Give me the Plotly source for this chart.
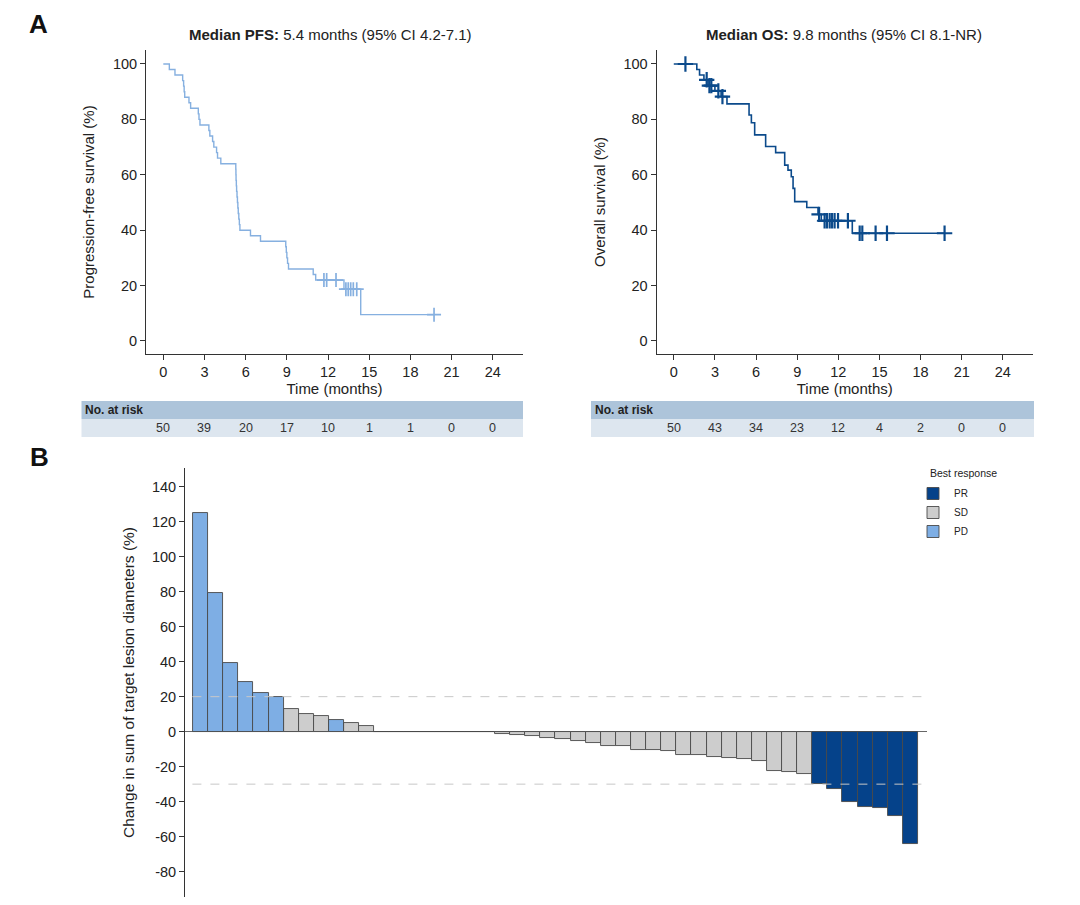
import plotly.graph_objects as go

# --- Kaplan-Meier step points (months, % surviving) ---
pfs_time = [0, 0.44, 0.85, 1.41, 1.48, 1.52, 1.56, 1.87, 1.99, 2.55, 2.60, 2.67,
            3.32, 3.39, 3.59, 3.68, 3.88, 3.95, 4.19,
            5.28, 5.29, 5.30, 5.32, 5.34, 5.37, 5.40, 5.43, 5.46, 5.50, 5.54, 5.58,
            6.35, 7.08, 8.92, 8.96, 9.00, 9.05, 9.12, 10.92, 11.10, 13.16, 14.38, 19.72]
pfs_surv = [100, 98, 96, 94, 92, 90, 88, 86, 84, 82, 80, 78,
            76, 74, 72, 70, 68, 66, 64,
            62, 60, 58, 56, 54, 52, 50, 48, 46, 44, 42, 40,
            38, 36, 34, 32, 30, 28, 26, 24, 22, 18.7, 9.5, 9.5]
pfs_cens_time = [11.70, 11.90, 12.58, 13.30, 13.47, 13.65, 13.84, 14.09, 19.72]
pfs_cens_surv = [22, 22, 22, 18.7, 18.7, 18.7, 18.7, 18.7, 9.5]

os_time = [0, 1.68, 1.88, 2.20, 2.50, 3.00, 3.45, 3.88, 5.49, 5.66, 5.90, 6.70,
           7.43, 8.09, 8.33, 8.57, 8.70, 8.82, 9.70, 10.52, 10.76, 13.02, 19.75]
os_surv = [100, 98, 96, 94.3, 92.2, 90.3, 88.2, 85.6, 81.6, 78.8, 74.4, 70.2,
           68, 63.5, 61.7, 59.3, 55.1, 50.3, 48.2, 45.7, 43.4, 38.9, 38.9]
os_cens_time = [0.85, 2.40, 2.60, 2.74, 3.25, 3.55, 10.60, 11.00, 11.17, 11.37,
                11.54, 11.73, 11.98, 12.70, 13.56, 13.75, 14.72, 15.55, 19.75]
os_cens_surv = [100, 94.3, 92.2, 92.2, 90.3, 88.2, 45.7, 43.4, 43.4, 43.4,
                43.4, 43.4, 43.4, 43.4, 38.9, 38.9, 38.9, 38.9, 38.9]

risk_times = [0, 3, 6, 9, 12, 15, 18, 21, 24]
pfs_at_risk = [50, 39, 20, 17, 10, 1, 1, 0, 0]
os_at_risk = [50, 43, 34, 23, 12, 4, 2, 0, 0]

# --- waterfall: best change in sum of target lesion diameters (%) ---
wf_change = [125, 79.5, 39, 28.6, 21.9, 19.8, 13.1, 10.3, 8.8, 6.5, 5.1, 3.1,
             0, 0, 0, 0, 0, 0, 0, 0,
             -1.3, -2.1, -2.7, -3.4, -4.4, -5.5, -6.7, -8.4, -8.4, -10.3, -10.5,
             -11.2, -13.1, -13.5, -14.5, -15.0, -15.4, -16.8, -22.6, -23.0, -24.0,
             -29.9, -32.7, -40.1, -42.8, -43.9, -48.3, -64.3]
wf_response = (['PD'] * 6 + ['SD'] * 3 + ['PD'] + ['SD'] * 2 + ['SD'] * 8
               + ['SD'] * 21 + ['PR'] * 7)
wf_ticks = [-80, -60, -40, -20, 0, 20, 40, 60, 80, 100, 120, 140]
response_order = ['PR', 'SD', 'PD']
response_colors = {'PR': '#05428a', 'SD': '#cdcdcd', 'PD': '#7eaee4'}

FONT = 'Liberation Sans, Arial, sans-serif'
# the page body adds an 8px margin, so the figure is drawn 8px in from the corner
OFF = 8
W, H = 1080 - 2 * OFF, 905 - 2 * OFF


def px(x):
    return (x - OFF) / W


def py(y):
    return 1 - (y - OFF) / H


fig = go.Figure()

# PFS
fig.add_trace(go.Scatter(x=pfs_time, y=pfs_surv, mode='lines', line_shape='hv',
                         line=dict(color='#86b0e0', width=1.4),
                         xaxis='x', yaxis='y', showlegend=False))
fig.add_trace(go.Scatter(x=pfs_cens_time, y=pfs_cens_surv, mode='markers',
                         marker=dict(symbol='cross-thin', size=10,
                                     line=dict(color='#86b0e0', width=1.7)),
                         xaxis='x', yaxis='y', showlegend=False))
# OS
fig.add_trace(go.Scatter(x=os_time, y=os_surv, mode='lines', line_shape='hv',
                         line=dict(color='#0b4a8b', width=1.6),
                         xaxis='x2', yaxis='y2', showlegend=False))
fig.add_trace(go.Scatter(x=os_cens_time, y=os_cens_surv, mode='markers',
                         marker=dict(symbol='cross-thin', size=11,
                                     line=dict(color='#0b4a8b', width=2.2)),
                         xaxis='x2', yaxis='y2', showlegend=False))

# waterfall bars, one trace per response for the legend
for resp in response_order:
    idx = [i for i, r in enumerate(wf_response) if r == resp]
    fig.add_trace(go.Bar(x=idx, y=[wf_change[i] for i in idx], name=resp,
                         marker=dict(color=response_colors[resp],
                                     line=dict(color='#4a4a4a', width=0.9)),
                         width=1, xaxis='x3', yaxis='y3'))

km_x = dict(range=[-1.26, 26.2], tickvals=risk_times, ticks='outside', ticklen=5,
            tickcolor='#333', showline=True, linecolor='#333', linewidth=1,
            showgrid=False, zeroline=False, tickfont=dict(size=14.5, color='#222'),
            title=dict(text='Time (months)', font=dict(size=15, color='#222'), standoff=2))
km_y = dict(range=[-4.7, 105.05], tickvals=[0, 20, 40, 60, 80, 100], ticks='outside',
            ticklen=5, tickcolor='#333', showline=True, linecolor='#333', linewidth=1,
            showgrid=False, zeroline=False, tickfont=dict(size=14.5, color='#222'),
            domain=[py(354), py(50)])

fig.update_layout(
    width=W, height=H, margin=dict(l=0, r=0, t=0, b=0),
    paper_bgcolor='white', plot_bgcolor='white',
    font=dict(family=FONT, color='#222'),
    barmode='overlay', bargap=0,
    xaxis=dict(km_x, domain=[px(146), px(523)], anchor='y'),
    yaxis=dict(km_y, anchor='x',
               title=dict(text='Progression-free survival (%)', font=dict(size=15, color='#222'),
                          standoff=14)),
    xaxis2=dict(km_x, domain=[px(656.5), px(1033)], anchor='y2'),
    yaxis2=dict(km_y, anchor='x2',
                title=dict(text='Overall survival (%)', font=dict(size=15, color='#222'),
                           standoff=14)),
    xaxis3=dict(domain=[px(185), px(927)], range=[-1.03, 48.1], visible=False,
                anchor='y3'),
    yaxis3=dict(domain=[py(897), py(468)], range=[-94.5, 150.7],
                tickvals=wf_ticks, ticktext=[str(v) for v in wf_ticks],
                ticks='outside', ticklen=5,
                tickcolor='#333', showline=True, linecolor='#333', linewidth=1,
                showgrid=False, zeroline=True, zerolinecolor='#666', zerolinewidth=1,
                tickfont=dict(size=14.5, color='#222'), anchor='x3',
                title=dict(text='Change in sum of target lesion diameters (%)',
                           font=dict(size=15.5, color='#222'), standoff=13)),
    legend=dict(x=px(912), y=py(479), xanchor='left', yanchor='top',
                font=dict(size=10, color='#222'), tracegroupgap=0, itemwidth=32,
                bgcolor='rgba(0,0,0,0)'),
)

shapes = []
# reference lines at +20% and -30%
for level in [20, -30]:
    shapes.append(dict(type='line', xref='x3 domain', yref='y3', x0=0.01, x1=0.997,
                       y0=level, y1=level, layer='above',
                       line=dict(color='#c8c8c8', width=1, dash='dash')))
# number at risk tables
for x0, x1 in [(81.5, 523), (591, 1034)]:
    shapes.append(dict(type='rect', xref='paper', yref='paper', x0=px(x0), x1=px(x1),
                       y0=py(419), y1=py(401), fillcolor='#adc4da', line=dict(width=0),
                       layer='below'))
    shapes.append(dict(type='rect', xref='paper', yref='paper', x0=px(x0), x1=px(x1),
                       y0=py(437), y1=py(419), fillcolor='#dde6ef', line=dict(width=0),
                       layer='below'))
fig.update_layout(shapes=shapes)

annotations = [
    dict(text='<b>A</b>', x=px(28), y=1, xanchor='left', yanchor='top', borderpad=0,
         font=dict(size=26, color='#111')),
    dict(text='<b>B</b>', x=px(28), y=py(457), xanchor='left', yanchor='middle',
         font=dict(size=26, color='#111')),
    dict(text='<b>Median PFS:</b> 5.4 months (95% CI 4.2-7.1)', x=px(330), y=py(35),
         xanchor='center', yanchor='middle', font=dict(size=15, color='#222')),
    dict(text='<b>Median OS:</b> 9.8 months (95% CI 8.1-NR)', x=px(844), y=py(35),
         xanchor='center', yanchor='middle', font=dict(size=15, color='#222')),
    dict(text='<b>No. at risk</b>', x=px(83), y=py(410), xanchor='left', yanchor='middle',
         font=dict(size=12, color='#222')),
    dict(text='<b>No. at risk</b>', x=px(593), y=py(410), xanchor='left', yanchor='middle',
         font=dict(size=12, color='#222')),
    dict(text='Best response', x=px(928), y=py(473), xanchor='left', yanchor='middle',
         font=dict(size=10.5, color='#222')),
]
for axis, counts in [('x', pfs_at_risk), ('x2', os_at_risk)]:
    for t, n in zip(risk_times, counts):
        annotations.append(dict(text=str(n), x=t, xref=axis, y=py(428), yref='paper',
                                xanchor='center', yanchor='middle',
                                font=dict(size=12.5, color='#333')))
for a in annotations:
    a.setdefault('xref', 'paper')
    a.setdefault('yref', 'paper')
    a['showarrow'] = False
fig.update_layout(annotations=annotations)

fig.write_html("out.html")
